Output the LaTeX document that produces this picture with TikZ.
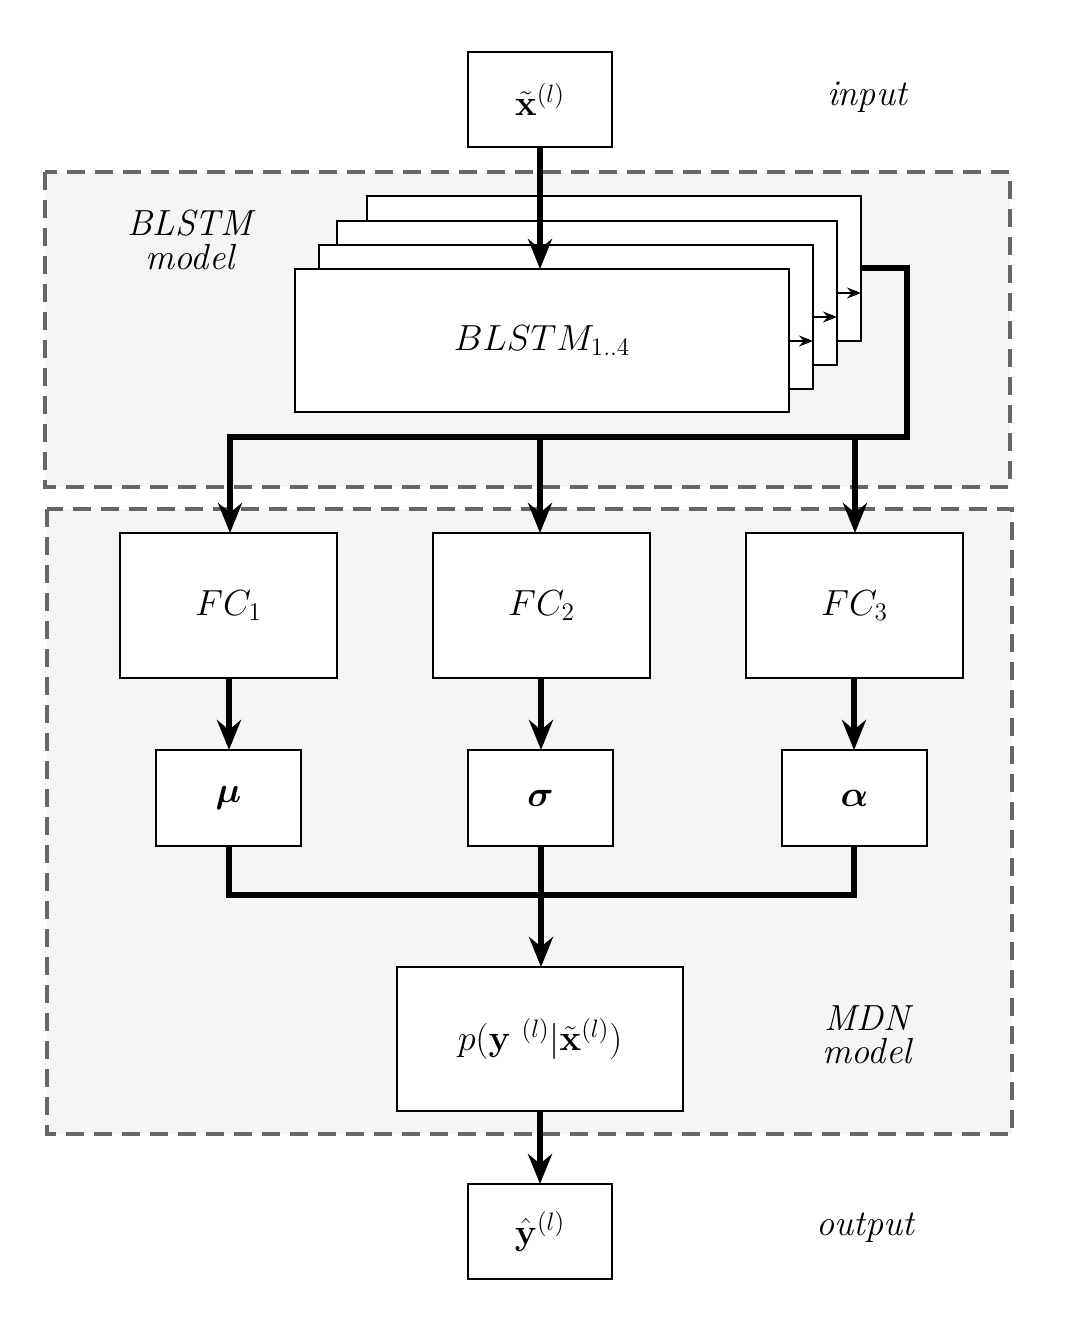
\documentclass[tikz,border=0pt]{standalone}
\usepackage{amsmath,amssymb,bm}
\usetikzlibrary{arrows.meta}
\begin{document}
\begin{tikzpicture}[x=1pt,y=-1pt,
  every node/.style={font=\huge,scale=1.75},
  box/.style={draw,line width=2.6pt,fill=white},
  region/.style={draw=black!60,fill=black!4,line width=4.5pt,dash pattern=on 18pt off 10pt},
  thick arrow/.style={line width=6pt,-{Stealth[length=30pt,width=24pt]}},
  thin arrow/.style={line width=1.8pt,-{Stealth[length=14pt,width=11pt]}},
  lbl/.style={font=\huge\itshape}]
\useasboundingbox (0,0) rectangle (1065,1325);
\fill[white] (0,0) rectangle (1065,1325);
\draw[region] (45,172) rectangle (1010,487);
\draw[region] (47,509) rectangle (1012,1134);
% input/output
\draw[box] (468,52) rectangle node (in) {$\tilde{\mathbf{x}}^{(l)}$} (612,147);
\coordinate (inb) at (540,147);
\draw[box] (468,1184) rectangle node (out) {$\hat{\mathbf{y}}^{(l)}$} (612,1279);
\coordinate (outt) at (540,1184);
% BLSTM stack
\draw[box] (367,196) rectangle (861,341);
\draw[box] (337,221) rectangle (837,365);
\draw[box] (319,245) rectangle (813,389);
\draw[box] (295,269) rectangle node (bl) {$BLSTM_{1..4}$} (789,412);
\coordinate (b1t) at (540,269);
\coordinate (a1) at (789,341); \coordinate (a1e) at (813,341);
\coordinate (a2) at (813,317); \coordinate (a2e) at (837,317);
\coordinate (a3) at (837,293); \coordinate (a3e) at (861,293);
\draw[thin arrow] (a1) -- (a1e);
\draw[thin arrow] (a2) -- (a2e);
\draw[thin arrow] (a3) -- (a3e);
% FC
\draw[box] (120,533) rectangle node (fc1) {$FC_1$} (337,678);
\draw[box] (433,533) rectangle node (fc2) {$FC_2$} (650,678);
\draw[box] (746,533) rectangle node (fc3) {$FC_3$} (963,678);
\draw[box] (156,750) rectangle node (mu) {$\bm{\mu}$} (301,846);
\draw[box] (468,750) rectangle node (sg) {$\bm{\sigma}$} (613,846);
\draw[box] (782,750) rectangle node (al) {$\bm{\alpha}$} (927,846);
\draw[box] (397,967) rectangle node (p) {$p(\mathbf{y}\ ^{(l)}|\tilde{\mathbf{x}}^{(l)})$} (683,1111);
% connectors
\draw[thick arrow] (inb) -- (b1t);
\coordinate (s) at (861,268);
\draw[line width=6pt,line join=miter] (s) -- (907,268) -- (907,437) -- (227,437);
\draw[thick arrow] (230,434) -- (230,533);
\draw[thick arrow] (540,437) -- (540,533);
\draw[thick arrow] (855,437) -- (855,533);
\draw[thick arrow] (229,678) -- (229,750);
\draw[thick arrow] (541,678) -- (541,750);
\draw[thick arrow] (854,678) -- (854,750);
\draw[line width=6pt,line join=miter] (229,846) -- (229,895) -- (854,895) -- (854,846);
\draw[line width=6pt] (541,846) -- (541,895);
\draw[thick arrow] (541,893) -- (541,967);
\draw[thick arrow] (540,1111) -- (outt);
% labels
\node[lbl] at (867,97) {input};
\node[lbl,align=center] at (190,240) {BLSTM\\[-6pt]model};
\node[lbl,align=center] at (867,1035) {MDN\\[-6pt]model};
\node[lbl] at (865,1228) {output};
\end{tikzpicture}
\end{document}
